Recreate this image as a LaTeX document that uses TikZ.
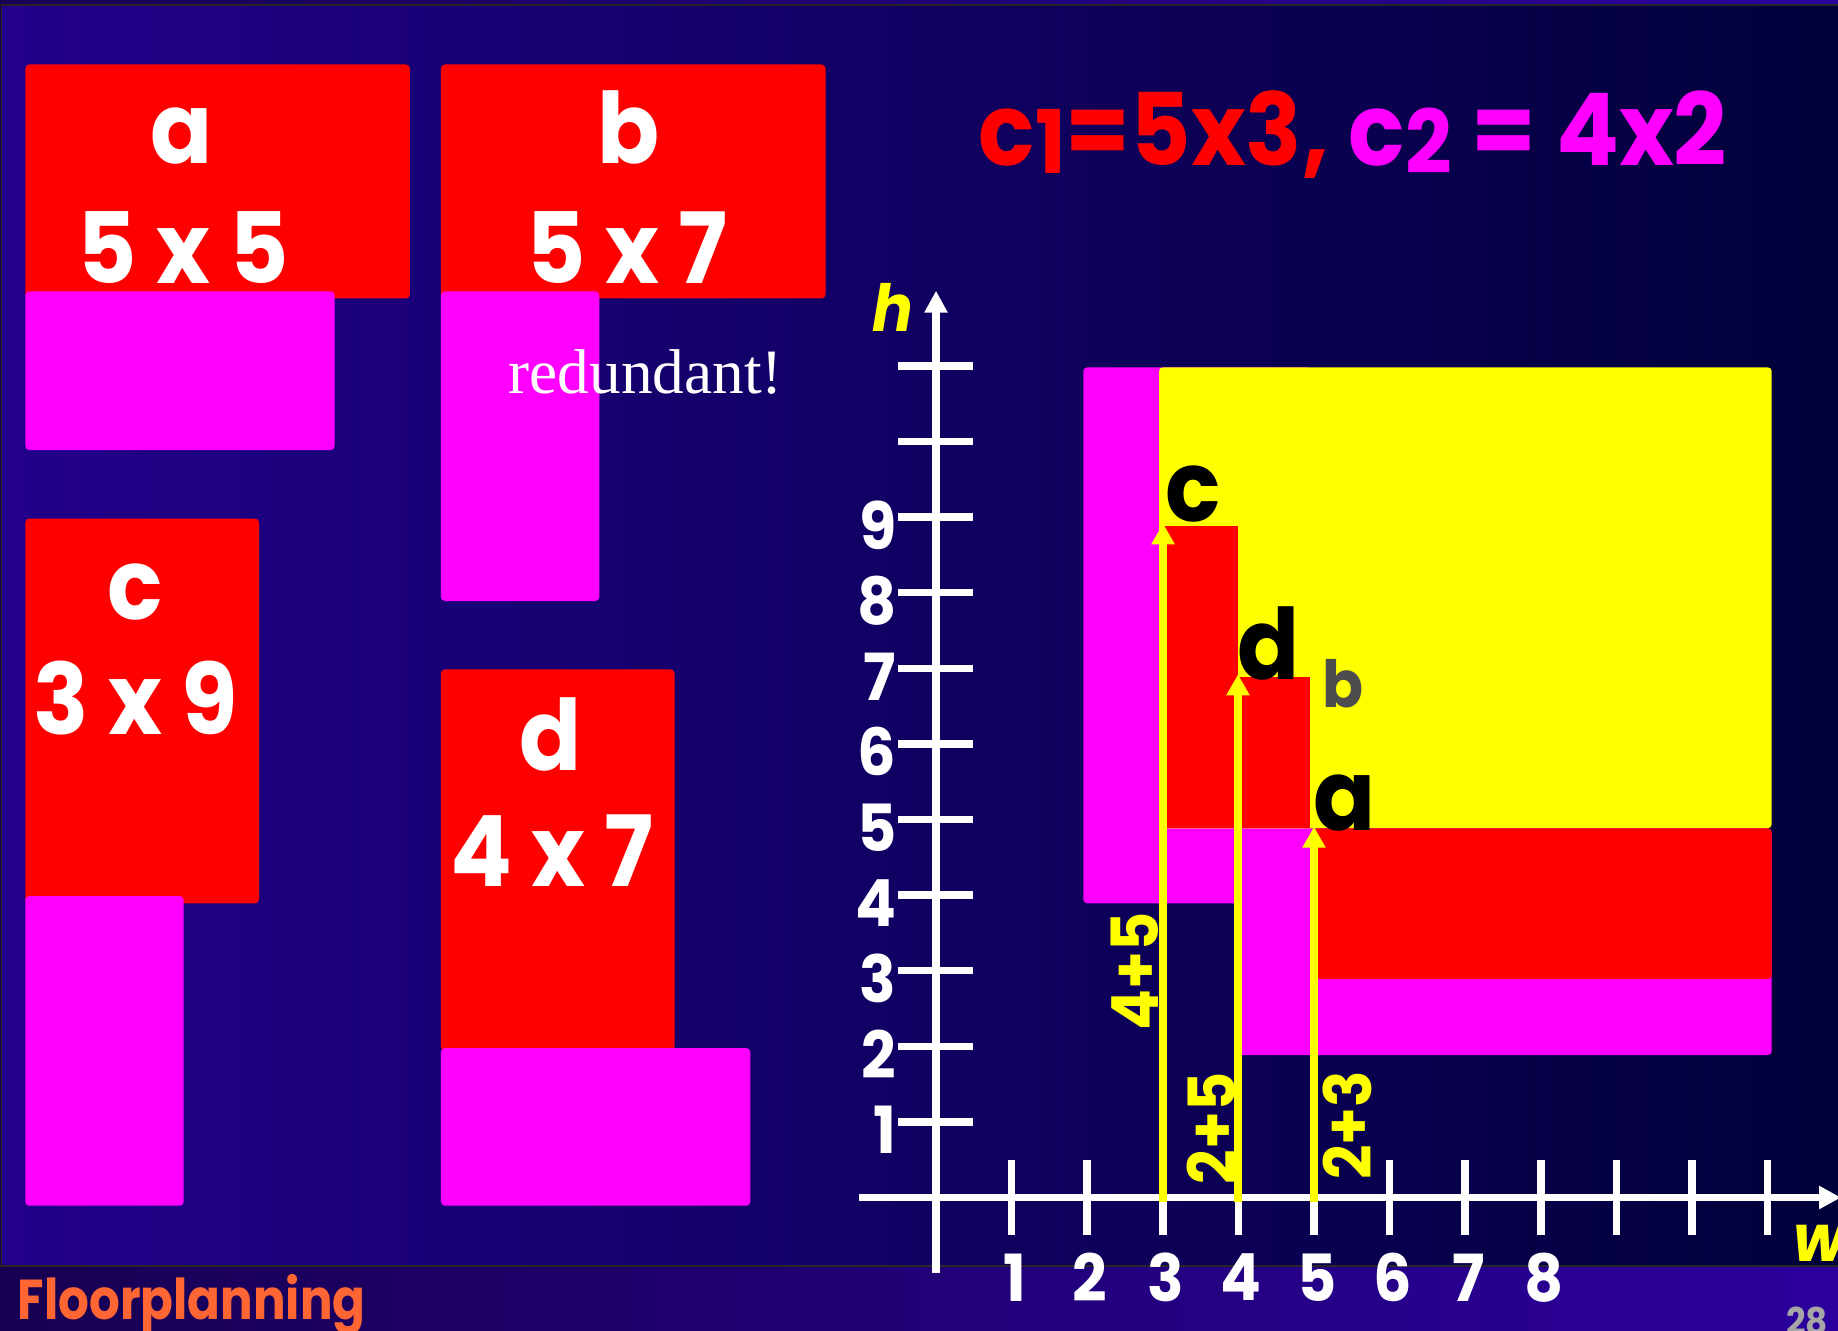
\documentclass[tikz,border=0pt]{standalone}
\usepackage{fontspec}
\setmainfont{Poppins}[FakeStretch=0.93]
\newfontfamily\serifface{Liberation Serif}
\newfontfamily\footface{Poppins}[FakeStretch=0.86]
\usepackage{xcolor}
\usepackage{tikz}
\usetikzlibrary{arrows.meta}
\definecolor{panelL}{HTML}{22008A}
\definecolor{panelR}{HTML}{00003A}
\definecolor{barL}{HTML}{170052}
\definecolor{barR}{HTML}{2C009C}
\definecolor{chipred}{HTML}{FF0000}
\definecolor{chipmag}{HTML}{FF00FF}
\definecolor{chipyel}{HTML}{FFFF00}
\definecolor{tangerine}{HTML}{FF6633}
\definecolor{slate}{HTML}{4D4D4D}
\definecolor{pagegray}{HTML}{A6A6A6}
\newcommand{\lowsub}[1]{\raisebox{-0.8mm}{\fontsize{25}{25}\selectfont #1}}

\begin{document}
\begin{tikzpicture}[x=0.1mm,y=-0.1mm,
  redblk/.style={fill=chipred,rounded corners=0.4mm},
  magblk/.style={fill=chipmag,rounded corners=0.4mm},
  yelblk/.style={fill=chipyel,rounded corners=0.4mm},
  blklbl/.style={text=white,font=\fontsize{28}{30}\selectfont\bfseries,anchor=base,inner sep=0pt},
  pinlbl/.style={text=black,font=\fontsize{28}{30}\selectfont\bfseries,anchor=base,inner sep=0pt},
  ticklbl/.style={text=white,font=\fontsize{18.5}{20}\selectfont\bfseries,inner sep=0pt},
  sumlbl/.style={text=chipyel,font=\fontsize{18.5}{20}\selectfont\bfseries,inner sep=0pt,rotate=90},
  axisln/.style={draw=white,line width=0.75mm},
  riser/.style={draw=chipyel,line width=0.77mm,-{Triangle[length=2.1mm,width=2.2mm]}}
]
\useasboundingbox (0,0) rectangle (1838,1330);
% background
\shade[left color=barL,right color=barR] (0,0) rectangle (1838,1330);
\shade[left color=panelL,right color=panelR] (1.5,5) rectangle (1838,1266);
\draw[black!85,line width=0.15mm] (1.5,1266) -- (1.5,5) -- (1838,5);
\draw[black!85,line width=0.15mm] (0,1266) -- (1838,1266);

% the four blocks and their second shapes
\fill[redblk] (25.3,64.5) rectangle (409.9,298.5);
\fill[magblk] (25.3,291.4) rectangle (334.7,450);
\fill[redblk] (440.9,64.5) rectangle (825.5,298.5);
\fill[magblk] (440.9,291.4) rectangle (599.3,601);
\fill[redblk] (25.3,518.5) rectangle (259,903.4);
\fill[magblk] (25.3,896) rectangle (183.7,1205.7);
\fill[redblk] (440.9,669.4) rectangle (674.5,1050.6);
\fill[magblk] (440.9,1048) rectangle (750.3,1205.7);

\node[blklbl] (aname) at (182,164) {a};
\node[blklbl] (adim) at (183,284) {5 x 5};
\node[blklbl] (bname) at (629,164) {b};
\node[blklbl] (bdim) at (627,284) {5 x 7};
\node[blklbl] (cname) at (135,619) {c};
\node[blklbl] (cdim) at (136,734) {3 x 9};
\node[blklbl] (dname) at (551,770) {d};
\node[blklbl] (ddim) at (552,886) {4 x 7};
\node[text=white,font=\serifface\fontsize{18}{20}\selectfont,anchor=base west,inner sep=0pt] (redund) at (508,393.4) {redundant!};

% title
\node[font=\fontsize{28.5}{30}\selectfont\bfseries,anchor=base west,inner sep=0pt] (costs) at (978,165.3)
  {\color{chipred}c\lowsub{1}=5x3, \color{chipmag}c\lowsub{2} = 4x2};

% stacked floorplan
\fill[magblk] (1083.3,367.3) rectangle (1310,903.3);
\fill[magblk] (1236,828.3) rectangle (1771.7,1055);
\fill[yelblk] (1159,367.3) rectangle (1771.7,828.3);
\fill[chipred] (1163,526) rectangle (1238,828.3);
\fill[chipred] (1238,677.3) rectangle (1310,828.3);
\fill[redblk] (1314,828.3) rectangle (1771.7,979);

% axes
\coordinate (hbase) at (936,1272.7);
\coordinate (htop) at (936,290.7);
\coordinate (wbase) at (859,1197.5);
\coordinate (wend) at (1841,1197.5);
\draw[axisln,-{Triangle[length=2.2mm,width=2.2mm]}] (hbase) -- (htop);
\draw[axisln,-{Triangle[length=2.2mm,width=2.2mm]}] (wbase) -- (wend);
\foreach \n in {1,...,11} {
  \draw[axisln] (898,{1197.5-75.6*\n}) -- (973,{1197.5-75.6*\n});
  \draw[axisln] ({936+75.6*\n},1160) -- ({936+75.6*\n},1235);
}
\foreach \n in {1,...,9}
  \node[ticklbl,anchor=east] (vlab\n) at (897,{1205.5-75.6*\n}) {\n};
\foreach \n in {1,...,8}
  \node[ticklbl] (wlab\n) at ({939+75.6*\n},1277.5) {\n};
\node[text=chipyel,font=\fontsize{18.5}{20}\selectfont\bfseries\itshape,anchor=base,inner sep=0pt] (hname) at (893,331.7) {h};
\node[text=chipyel,font=\fontsize{18.5}{20}\selectfont\bfseries\itshape,anchor=base west,inner sep=0pt] (wname) at (1793,1261.7) {w};

% corner risers
\coordinate (cfoot) at (1163,1202);
\coordinate (ctip) at (1163,523.3);
\coordinate (dfoot) at (1238,1202);
\coordinate (dtip) at (1238,674.3);
\coordinate (afoot) at (1314,1202);
\coordinate (atip) at (1314,826.7);
\draw[riser] (cfoot) -- (ctip);
\draw[riser] (dfoot) -- (dtip);
\draw[riser] (afoot) -- (atip);
\node[sumlbl] (csum) at (1135,971) {4+5};
\node[sumlbl] (dsum) at (1211,1128.5) {2+5};
\node[sumlbl] (asum) at (1347,1125) {2+3};

\node[pinlbl] (cpin) at (1192.7,521.7) {c};
\node[pinlbl] (dpin) at (1268.5,679.3) {d};
\node[pinlbl] (apin) at (1344.4,830) {a};
\node[text=slate,font=\fontsize{18.5}{20}\selectfont\bfseries,anchor=base,inner sep=0pt] (bpin) at (1343.3,707.7) {b};

% footer
\node[text=tangerine,font=\footface\fontsize{16}{18}\selectfont\bfseries,anchor=base west,inner sep=0pt] (footer) at (17,1319.3) {Floorplanning};
\node[text=pagegray,font=\fontsize{10.5}{12}\selectfont\bfseries,anchor=north,inner sep=0pt] (pageno) at (1807,1306) {28};
\end{tikzpicture}
\end{document}
